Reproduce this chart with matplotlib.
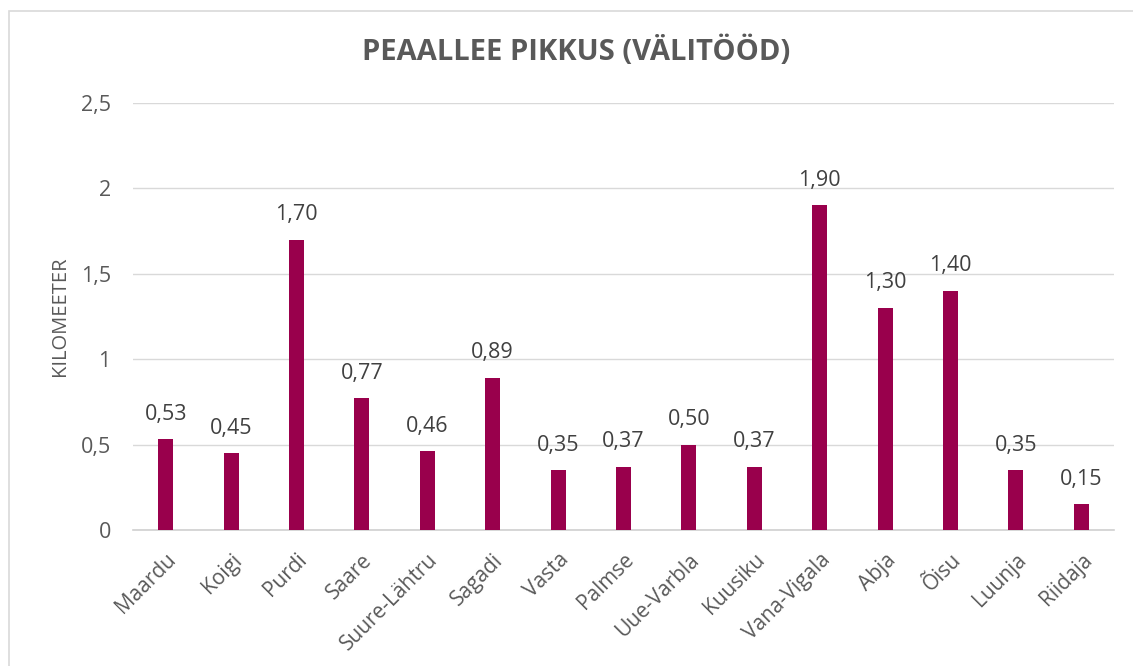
import matplotlib.pyplot as plt
from matplotlib.patches import Rectangle

# values
places = ["Maardu", "Koigi", "Purdi", "Saare", "Suure-Lähtru", "Sagadi", "Vasta",
          "Palmse", "Uue-Varbla", "Kuusiku", "Vana-Vigala", "Abja", "Õisu",
          "Luunja", "Riidaja"]
lengths = [0.53, 0.45, 1.70, 0.77, 0.46, 0.89, 0.35, 0.37, 0.50, 0.37,
           1.90, 1.30, 1.40, 0.35, 0.15]
yticks = [0, 0.5, 1, 1.5, 2, 2.5]
ytick_labels = ["0", "0,5", "1", "1,5", "2", "2,5"]

plt.rcParams['font.family'] = ['Open Sans', 'DejaVu Sans']
text_gray = '#595959'
bar_color = '#99004c'

fig = plt.figure(figsize=(11.33, 6.66), dpi=100)
# plot area in pixels: x 133..1114, y 103..530
ax = fig.add_axes([133 / 1133, 1 - 530 / 666, 981 / 1133, 427 / 666])

# light border round the chart, running off the right and bottom edges
fig.patches.append(Rectangle((9 / 1133, -0.1), 1.2, 1 - 11 / 666 + 0.1,
                             transform=fig.transFigure, fill=False,
                             edgecolor='#d9d9d9', linewidth=1.2))

xs = range(len(places))
bars = ax.bar(xs, lengths, width=0.23, color=bar_color, zorder=3)

for x, v in zip(xs, lengths):
    ax.text(x, v + 0.085, "{:.2f}".format(v).replace('.', ','), ha='center',
            va='bottom', fontsize=15.5, color='#404040')

ax.set_xlim(-0.5, len(places) - 0.5)
ax.set_ylim(0, 2.5)
ax.set_yticks(yticks)
ax.set_yticklabels(ytick_labels, fontsize=15.5, color=text_gray)
ax.set_xticks(list(xs))
ax.set_xticklabels(places, rotation=45, ha='right', rotation_mode='anchor',
                   fontsize=15, color=text_gray)
ax.tick_params(axis='both', length=0)
ax.tick_params(axis='y', pad=16)
ax.tick_params(axis='x', pad=14)

ax.grid(axis='y', color='#d9d9d9', linewidth=1, zorder=0)
for side in ['top', 'right', 'left']:
    ax.spines[side].set_visible(False)
ax.spines['bottom'].set_color('#d0d0d0')
ax.spines['bottom'].set_linewidth(1.2)

ax.set_ylabel("KILOMEETER", fontsize=14.5, color=text_gray)
ax.yaxis.set_label_coords(-63 / 981, 0.5)

fig.text(576 / 1133, 1 - 52 / 666, "PEAALLEE PIKKUS (VÄLITÖÖD)", ha='center',
         va='center', fontsize=21, fontweight='bold', color=text_gray)

fig.savefig("out.png", dpi=100)
